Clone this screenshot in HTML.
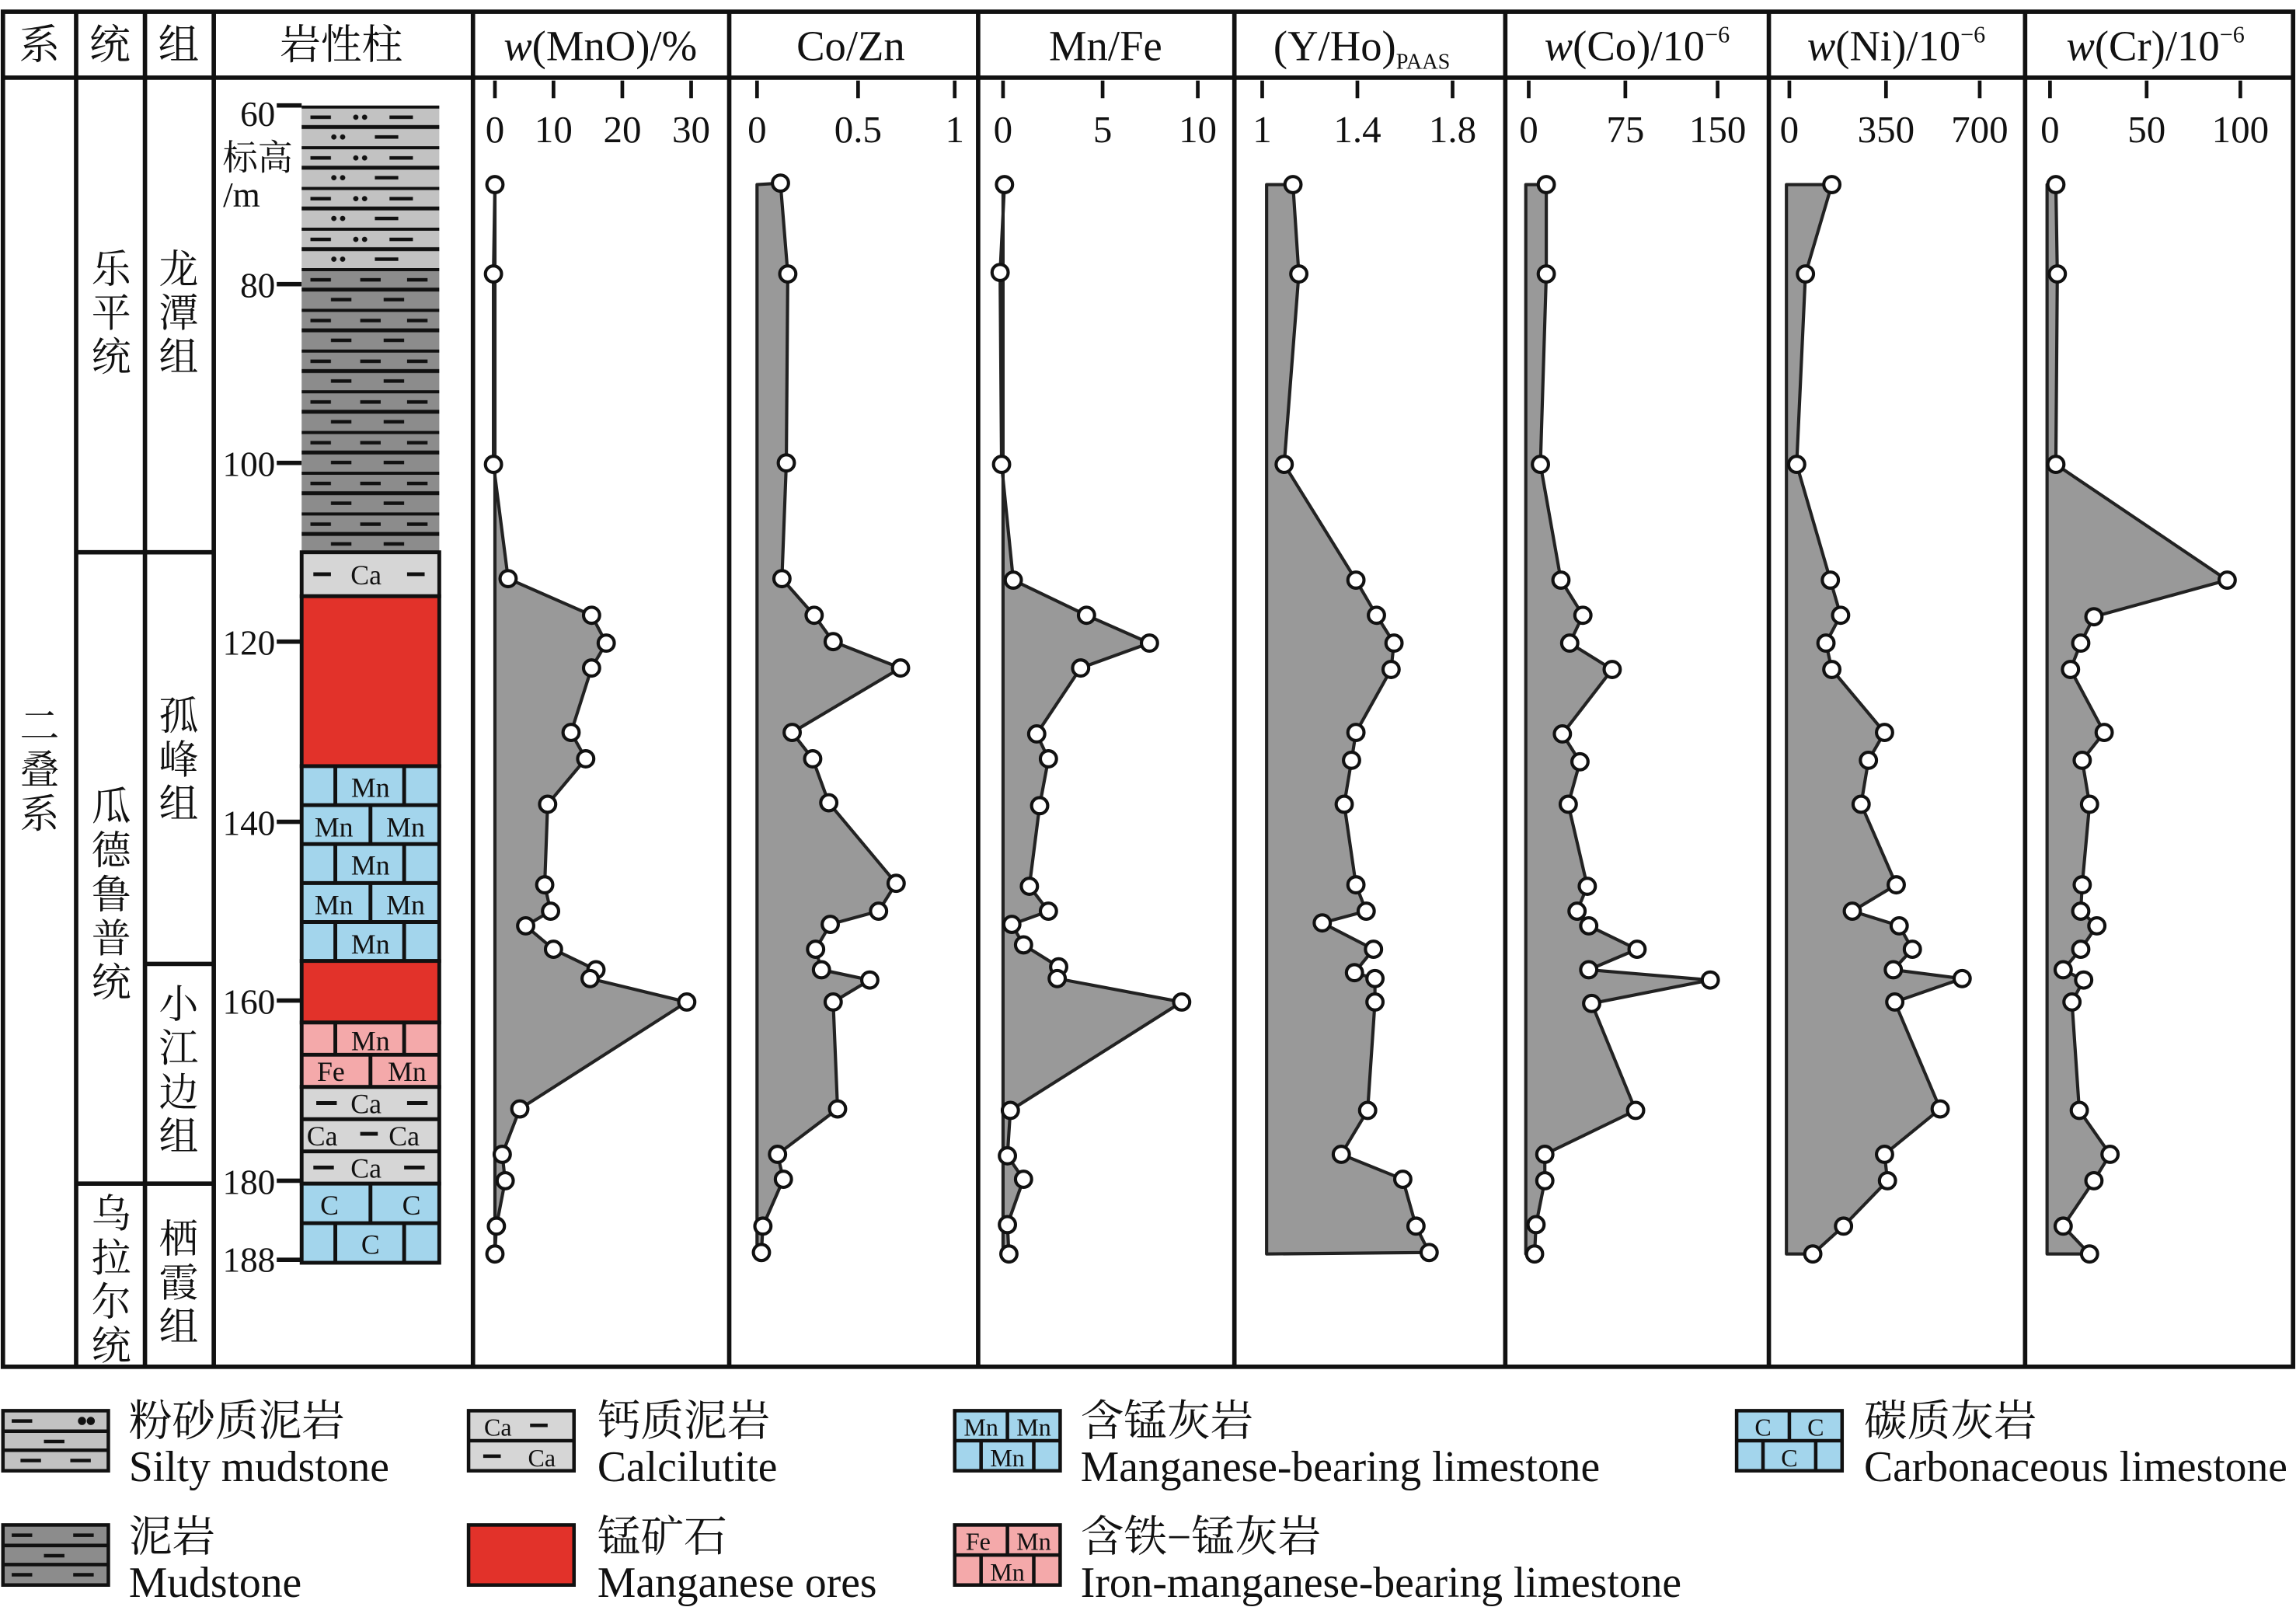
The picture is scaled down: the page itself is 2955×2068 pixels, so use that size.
<!DOCTYPE html>
<html><head><meta charset="utf-8"><style>
html,body{margin:0;padding:0;background:#fff}
svg{display:block}
text{font-family:"Liberation Serif","Noto Serif CJK SC","Noto Sans CJK SC",serif;fill:#111}
</style></head><body>
<svg width="2955" height="2068" viewBox="0 0 1568 1097" preserveAspectRatio="none" xmlns="http://www.w3.org/2000/svg">
<defs>
<pattern id="silty" x="206" y="72" width="94" height="27.8" patternUnits="userSpaceOnUse">
<rect width="94" height="27.8" fill="#c2c2c2"/>
<line x1="0" y1="0.8" x2="94" y2="0.8" stroke="#111" stroke-width="2.6"/>
<line x1="0" y1="14.7" x2="94" y2="14.7" stroke="#111" stroke-width="2.6"/>
<line x1="6" y1="8" x2="20" y2="8" stroke="#111" stroke-width="2.4"/>
<line x1="60" y1="8" x2="76" y2="8" stroke="#111" stroke-width="2.4"/>
<circle cx="37" cy="8" r="1.8" fill="#111"/><circle cx="43" cy="8" r="1.8" fill="#111"/>
<circle cx="22" cy="21.5" r="1.8" fill="#111"/><circle cx="28" cy="21.5" r="1.8" fill="#111"/>
<line x1="50" y1="21.5" x2="66" y2="21.5" stroke="#111" stroke-width="2.4"/>
</pattern>
<pattern id="mud" x="206" y="183" width="94" height="27.8" patternUnits="userSpaceOnUse">
<rect width="94" height="27.8" fill="#8c8c8c"/>
<line x1="0" y1="0.8" x2="94" y2="0.8" stroke="#111" stroke-width="2.6"/>
<line x1="0" y1="14.7" x2="94" y2="14.7" stroke="#111" stroke-width="2.6"/>
<line x1="6" y1="8" x2="20" y2="8" stroke="#111" stroke-width="2.4"/>
<line x1="40" y1="8" x2="54" y2="8" stroke="#111" stroke-width="2.4"/>
<line x1="72" y1="8" x2="86" y2="8" stroke="#111" stroke-width="2.4"/>
<line x1="20" y1="21.5" x2="34" y2="21.5" stroke="#111" stroke-width="2.4"/>
<line x1="56" y1="21.5" x2="70" y2="21.5" stroke="#111" stroke-width="2.4"/>
</pattern>
</defs>

<g stroke="#111" stroke-width="3" fill="none">
<rect x="2" y="8" width="1564" height="925"/>
<line x1="2" y1="53" x2="1566" y2="53"/>
<line x1="52" y1="8" x2="52" y2="933"/>
<line x1="99" y1="8" x2="99" y2="933"/>
<line x1="146" y1="8" x2="146" y2="933"/>
<line x1="323" y1="8" x2="323" y2="933"/>
<line x1="498" y1="8" x2="498" y2="933"/>
<line x1="668" y1="8" x2="668" y2="933"/>
<line x1="843" y1="8" x2="843" y2="933"/>
<line x1="1028" y1="8" x2="1028" y2="933"/>
<line x1="1208" y1="8" x2="1208" y2="933"/>
<line x1="1383" y1="8" x2="1383" y2="933"/>
<line x1="52" y1="377" x2="146" y2="377"/>
<line x1="99" y1="658" x2="146" y2="658"/>
<line x1="52" y1="808" x2="146" y2="808"/>
</g>

<g font-size="28" text-anchor="middle">
<text x="27" y="40">系</text>
<text x="75" y="40">统</text>
<text x="122" y="40">组</text>
<text x="233" y="40">岩性柱</text>
<text x="410" y="41" font-size="29"><tspan font-style="italic">w</tspan>(MnO)/%</text>
<text x="581" y="41" font-size="29">Co/Zn</text>
<text x="755" y="41" font-size="29">Mn/Fe</text>
<text x="930" y="41" font-size="29">(Y/Ho)<tspan font-size="15" dy="6">PAAS</tspan></text>
<text x="1118" y="41" font-size="29"><tspan font-style="italic">w</tspan>(Co)/10<tspan font-size="16" dy="-12">−6</tspan></text>
<text x="1295" y="41" font-size="29"><tspan font-style="italic">w</tspan>(Ni)/10<tspan font-size="16" dy="-12">−6</tspan></text>
<text x="1472" y="41" font-size="29"><tspan font-style="italic">w</tspan>(Cr)/10<tspan font-size="16" dy="-12">−6</tspan></text>
</g>

<g font-size="27" text-anchor="middle">
<text x="27" y="505">二</text><text x="27" y="535">叠</text><text x="27" y="565">系</text>
<text x="76" y="193">乐</text><text x="76" y="223">平</text><text x="76" y="253">统</text>
<text x="76" y="560">瓜</text><text x="76" y="590">德</text><text x="76" y="620">鲁</text><text x="76" y="650">普</text><text x="76" y="680">统</text>
<text x="76" y="838">乌</text><text x="76" y="868">拉</text><text x="76" y="898">尔</text><text x="76" y="928">统</text>
<text x="122" y="193">龙</text><text x="122" y="223">潭</text><text x="122" y="253">组</text>
<text x="122" y="498">孤</text><text x="122" y="528">峰</text><text x="122" y="558">组</text>
<text x="122" y="695">小</text><text x="122" y="725">江</text><text x="122" y="755">边</text><text x="122" y="785">组</text>
<text x="122" y="855">栖</text><text x="122" y="885">霞</text><text x="122" y="915">组</text>
</g>

<g stroke="#111" stroke-width="3">
<line x1="189" y1="72" x2="206" y2="72"/>
<line x1="189" y1="194" x2="206" y2="194"/>
<line x1="189" y1="316" x2="206" y2="316"/>
<line x1="189" y1="438" x2="206" y2="438"/>
<line x1="189" y1="561" x2="206" y2="561"/>
<line x1="189" y1="683" x2="206" y2="683"/>
<line x1="189" y1="806" x2="206" y2="806"/>
<line x1="189" y1="860" x2="206" y2="860"/>
</g>
<g font-size="24" text-anchor="end">
<text x="188" y="86">60</text>
<text x="188" y="203">80</text>
<text x="188" y="325">100</text>
<text x="188" y="447">120</text>
<text x="188" y="570">140</text>
<text x="188" y="692">160</text>
<text x="188" y="815">180</text>
<text x="188" y="868">188</text>
</g>
<text x="176" y="116" font-size="24" text-anchor="middle">标高</text>
<text x="165" y="141" font-size="24" text-anchor="middle">/m</text>

<rect x="206" y="72" width="94" height="111" fill="url(#silty)"/>
<rect x="206" y="183" width="94" height="194" fill="url(#mud)"/>
<g stroke="#111" stroke-width="2.6">
<rect x="206" y="377" width="94" height="30" fill="#d6d6d6"/>
<rect x="206" y="407" width="94" height="116" fill="#e2322a"/>
<rect x="206" y="523" width="94" height="133" fill="#a3d5ec"/>
<rect x="206" y="656" width="94" height="42" fill="#e2322a"/>
<rect x="206" y="698" width="94" height="44" fill="#f4a9aa"/>
<rect x="206" y="742" width="94" height="66" fill="#d6d6d6"/>
<rect x="206" y="808" width="94" height="54" fill="#a3d5ec"/>
<line x1="206" y1="549.6" x2="300" y2="549.6"/>
<line x1="206" y1="576.2" x2="300" y2="576.2"/>
<line x1="206" y1="602.8" x2="300" y2="602.8"/>
<line x1="206" y1="629.4" x2="300" y2="629.4"/>
<line x1="229" y1="523" x2="229" y2="549.6"/><line x1="276" y1="523" x2="276" y2="549.6"/>
<line x1="253" y1="549.6" x2="253" y2="576.2"/>
<line x1="229" y1="576.2" x2="229" y2="602.8"/><line x1="276" y1="576.2" x2="276" y2="602.8"/>
<line x1="253" y1="602.8" x2="253" y2="629.4"/>
<line x1="229" y1="629.4" x2="229" y2="656"/><line x1="276" y1="629.4" x2="276" y2="656"/>
<line x1="206" y1="720" x2="300" y2="720"/>
<line x1="229" y1="698" x2="229" y2="720"/><line x1="276" y1="698" x2="276" y2="720"/>
<line x1="253" y1="720" x2="253" y2="742"/>
<line x1="206" y1="764" x2="300" y2="764"/>
<line x1="206" y1="786" x2="300" y2="786"/>
<line x1="206" y1="835" x2="300" y2="835"/>
<line x1="253" y1="808" x2="253" y2="835"/>
<line x1="229" y1="835" x2="229" y2="862"/><line x1="276" y1="835" x2="276" y2="862"/>
<line x1="214" y1="392" x2="226" y2="392"/><line x1="278" y1="392" x2="290" y2="392"/>
<line x1="216" y1="753" x2="230" y2="753"/><line x1="278" y1="753" x2="292" y2="753"/>
<line x1="246" y1="774" x2="258" y2="774"/>
<line x1="214" y1="797" x2="228" y2="797"/><line x1="276" y1="797" x2="290" y2="797"/>
</g>
<g font-size="19" text-anchor="middle">
<text x="250" y="399">Ca</text>
<text x="253" y="544">Mn</text>
<text x="228" y="571">Mn</text><text x="277" y="571">Mn</text>
<text x="253" y="597">Mn</text>
<text x="228" y="624">Mn</text><text x="277" y="624">Mn</text>
<text x="253" y="651">Mn</text>
<text x="253" y="717">Mn</text>
<text x="226" y="738">Fe</text><text x="278" y="738">Mn</text>
<text x="250" y="760">Ca</text>
<text x="220" y="782">Ca</text><text x="276" y="782">Ca</text>
<text x="250" y="804">Ca</text>
<text x="225" y="829">C</text><text x="281" y="829">C</text>
<text x="253" y="856">C</text>
</g>

<g stroke="#111" stroke-width="2.5">
<line x1="338" y1="55" x2="338" y2="67"/><line x1="378" y1="55" x2="378" y2="67"/><line x1="425" y1="55" x2="425" y2="67"/><line x1="472" y1="55" x2="472" y2="67"/>
<line x1="517" y1="55" x2="517" y2="67"/><line x1="586" y1="55" x2="586" y2="67"/><line x1="652" y1="55" x2="652" y2="67"/>
<line x1="685" y1="55" x2="685" y2="67"/><line x1="753" y1="55" x2="753" y2="67"/><line x1="818" y1="55" x2="818" y2="67"/>
<line x1="862" y1="55" x2="862" y2="67"/><line x1="927" y1="55" x2="927" y2="67"/><line x1="992" y1="55" x2="992" y2="67"/>
<line x1="1044" y1="55" x2="1044" y2="67"/><line x1="1110" y1="55" x2="1110" y2="67"/><line x1="1173" y1="55" x2="1173" y2="67"/>
<line x1="1222" y1="55" x2="1222" y2="67"/><line x1="1288" y1="55" x2="1288" y2="67"/><line x1="1352" y1="55" x2="1352" y2="67"/>
<line x1="1400" y1="55" x2="1400" y2="67"/><line x1="1466" y1="55" x2="1466" y2="67"/><line x1="1530" y1="55" x2="1530" y2="67"/>
</g>
<g font-size="26" text-anchor="middle">
<text x="338" y="97">0</text><text x="378" y="97">10</text><text x="425" y="97">20</text><text x="472" y="97">30</text>
<text x="517" y="97">0</text><text x="586" y="97">0.5</text><text x="652" y="97">1</text>
<text x="685" y="97">0</text><text x="753" y="97">5</text><text x="818" y="97">10</text>
<text x="862" y="97">1</text><text x="927" y="97">1.4</text><text x="992" y="97">1.8</text>
<text x="1044" y="97">0</text><text x="1110" y="97">75</text><text x="1173" y="97">150</text>
<text x="1222" y="97">0</text><text x="1288" y="97">350</text><text x="1352" y="97">700</text>
<text x="1400" y="97">0</text><text x="1466" y="97">50</text><text x="1530" y="97">100</text>
</g>

<g fill="#999" stroke="#222" stroke-width="2.2" stroke-linejoin="round">
<polygon points="338,126 338,126 337,187 337,317 347,395 404,420 414,439 404,456 390,500 400,518 374,549 372,604 376,622 359,632 378,648 407,662 403,668 469,684 355,757 343,788 345,806 339,837 338,856 338,856"/>
<polygon points="517,126 533,125 538,187 537,316 534,395 556,420 569,438 615,456 541,500 555,518 566,548 612,603 600,622 567,631 557,648 561,662 594,669 569,684 572,757 531,788 535,805 521,837 520,855 517,856"/>
<polygon points="685,126 686,126 683,186 684,317 692,396 742,420 785,439 738,456 708,501 716,518 710,550 703,605 716,622 691,631 699,645 723,660 722,668 807,684 690,758 688,789 699,805 688,836 689,856 685,856"/>
<polygon points="865,126 883,126 887,187 877,317 926,396 940,420 952,439 950,457 926,500 923,519 918,549 926,604 933,622 903,630 938,648 925,664 939,668 939,684 934,758 916,788 958,805 967,837 976,855 865,856"/>
<polygon points="1042,126 1056,126 1056,187 1052,317 1066,396 1081,420 1072,439 1101,457 1067,501 1079,520 1071,549 1084,605 1077,622 1085,632 1118,648 1085,662 1168,669 1087,685 1117,758 1055,788 1055,806 1049,836 1048,856 1042,856"/>
<polygon points="1220,126 1251,126 1233,187 1227,317 1250,396 1257,420 1247,439 1251,457 1287,500 1276,519 1271,549 1295,604 1265,622 1297,632 1306,648 1293,662 1340,668 1294,684 1325,757 1287,788 1289,806 1259,837 1238,856 1220,856"/>
<polygon points="1398,126 1404,126 1405,187 1404,317 1521,396 1430,421 1421,439 1414,457 1437,500 1422,519 1427,549 1422,604 1421,622 1432,632 1421,648 1409,662 1423,669 1415,684 1420,758 1441,788 1430,806 1409,837 1427,856 1398,856"/>
</g>
<g fill="#fff" stroke="#111" stroke-width="2.2">
<circle cx="338" cy="126" r="5.5"/><circle cx="337" cy="187" r="5.5"/><circle cx="337" cy="317" r="5.5"/><circle cx="347" cy="395" r="5.5"/><circle cx="404" cy="420" r="5.5"/><circle cx="414" cy="439" r="5.5"/><circle cx="404" cy="456" r="5.5"/><circle cx="390" cy="500" r="5.5"/><circle cx="400" cy="518" r="5.5"/><circle cx="374" cy="549" r="5.5"/><circle cx="372" cy="604" r="5.5"/><circle cx="376" cy="622" r="5.5"/><circle cx="359" cy="632" r="5.5"/><circle cx="378" cy="648" r="5.5"/><circle cx="407" cy="662" r="5.5"/><circle cx="403" cy="668" r="5.5"/><circle cx="469" cy="684" r="5.5"/><circle cx="355" cy="757" r="5.5"/><circle cx="343" cy="788" r="5.5"/><circle cx="345" cy="806" r="5.5"/><circle cx="339" cy="837" r="5.5"/><circle cx="338" cy="856" r="5.5"/>
<circle cx="533" cy="125" r="5.5"/><circle cx="538" cy="187" r="5.5"/><circle cx="537" cy="316" r="5.5"/><circle cx="534" cy="395" r="5.5"/><circle cx="556" cy="420" r="5.5"/><circle cx="569" cy="438" r="5.5"/><circle cx="615" cy="456" r="5.5"/><circle cx="541" cy="500" r="5.5"/><circle cx="555" cy="518" r="5.5"/><circle cx="566" cy="548" r="5.5"/><circle cx="612" cy="603" r="5.5"/><circle cx="600" cy="622" r="5.5"/><circle cx="567" cy="631" r="5.5"/><circle cx="557" cy="648" r="5.5"/><circle cx="561" cy="662" r="5.5"/><circle cx="594" cy="669" r="5.5"/><circle cx="569" cy="684" r="5.5"/><circle cx="572" cy="757" r="5.5"/><circle cx="531" cy="788" r="5.5"/><circle cx="535" cy="805" r="5.5"/><circle cx="521" cy="837" r="5.5"/><circle cx="520" cy="855" r="5.5"/>
<circle cx="686" cy="126" r="5.5"/><circle cx="683" cy="186" r="5.5"/><circle cx="684" cy="317" r="5.5"/><circle cx="692" cy="396" r="5.5"/><circle cx="742" cy="420" r="5.5"/><circle cx="785" cy="439" r="5.5"/><circle cx="738" cy="456" r="5.5"/><circle cx="708" cy="501" r="5.5"/><circle cx="716" cy="518" r="5.5"/><circle cx="710" cy="550" r="5.5"/><circle cx="703" cy="605" r="5.5"/><circle cx="716" cy="622" r="5.5"/><circle cx="691" cy="631" r="5.5"/><circle cx="699" cy="645" r="5.5"/><circle cx="723" cy="660" r="5.5"/><circle cx="722" cy="668" r="5.5"/><circle cx="807" cy="684" r="5.5"/><circle cx="690" cy="758" r="5.5"/><circle cx="688" cy="789" r="5.5"/><circle cx="699" cy="805" r="5.5"/><circle cx="688" cy="836" r="5.5"/><circle cx="689" cy="856" r="5.5"/>
<circle cx="883" cy="126" r="5.5"/><circle cx="887" cy="187" r="5.5"/><circle cx="877" cy="317" r="5.5"/><circle cx="926" cy="396" r="5.5"/><circle cx="940" cy="420" r="5.5"/><circle cx="952" cy="439" r="5.5"/><circle cx="950" cy="457" r="5.5"/><circle cx="926" cy="500" r="5.5"/><circle cx="923" cy="519" r="5.5"/><circle cx="918" cy="549" r="5.5"/><circle cx="926" cy="604" r="5.5"/><circle cx="933" cy="622" r="5.5"/><circle cx="903" cy="630" r="5.5"/><circle cx="938" cy="648" r="5.5"/><circle cx="925" cy="664" r="5.5"/><circle cx="939" cy="668" r="5.5"/><circle cx="939" cy="684" r="5.5"/><circle cx="934" cy="758" r="5.5"/><circle cx="916" cy="788" r="5.5"/><circle cx="958" cy="805" r="5.5"/><circle cx="967" cy="837" r="5.5"/><circle cx="976" cy="855" r="5.5"/>
<circle cx="1056" cy="126" r="5.5"/><circle cx="1056" cy="187" r="5.5"/><circle cx="1052" cy="317" r="5.5"/><circle cx="1066" cy="396" r="5.5"/><circle cx="1081" cy="420" r="5.5"/><circle cx="1072" cy="439" r="5.5"/><circle cx="1101" cy="457" r="5.5"/><circle cx="1067" cy="501" r="5.5"/><circle cx="1079" cy="520" r="5.5"/><circle cx="1071" cy="549" r="5.5"/><circle cx="1084" cy="605" r="5.5"/><circle cx="1077" cy="622" r="5.5"/><circle cx="1085" cy="632" r="5.5"/><circle cx="1118" cy="648" r="5.5"/><circle cx="1085" cy="662" r="5.5"/><circle cx="1168" cy="669" r="5.5"/><circle cx="1087" cy="685" r="5.5"/><circle cx="1117" cy="758" r="5.5"/><circle cx="1055" cy="788" r="5.5"/><circle cx="1055" cy="806" r="5.5"/><circle cx="1049" cy="836" r="5.5"/><circle cx="1048" cy="856" r="5.5"/>
<circle cx="1251" cy="126" r="5.5"/><circle cx="1233" cy="187" r="5.5"/><circle cx="1227" cy="317" r="5.5"/><circle cx="1250" cy="396" r="5.5"/><circle cx="1257" cy="420" r="5.5"/><circle cx="1247" cy="439" r="5.5"/><circle cx="1251" cy="457" r="5.5"/><circle cx="1287" cy="500" r="5.5"/><circle cx="1276" cy="519" r="5.5"/><circle cx="1271" cy="549" r="5.5"/><circle cx="1295" cy="604" r="5.5"/><circle cx="1265" cy="622" r="5.5"/><circle cx="1297" cy="632" r="5.5"/><circle cx="1306" cy="648" r="5.5"/><circle cx="1293" cy="662" r="5.5"/><circle cx="1340" cy="668" r="5.5"/><circle cx="1294" cy="684" r="5.5"/><circle cx="1325" cy="757" r="5.5"/><circle cx="1287" cy="788" r="5.5"/><circle cx="1289" cy="806" r="5.5"/><circle cx="1259" cy="837" r="5.5"/><circle cx="1238" cy="856" r="5.5"/>
<circle cx="1404" cy="126" r="5.5"/><circle cx="1405" cy="187" r="5.5"/><circle cx="1404" cy="317" r="5.5"/><circle cx="1521" cy="396" r="5.5"/><circle cx="1430" cy="421" r="5.5"/><circle cx="1421" cy="439" r="5.5"/><circle cx="1414" cy="457" r="5.5"/><circle cx="1437" cy="500" r="5.5"/><circle cx="1422" cy="519" r="5.5"/><circle cx="1427" cy="549" r="5.5"/><circle cx="1422" cy="604" r="5.5"/><circle cx="1421" cy="622" r="5.5"/><circle cx="1432" cy="632" r="5.5"/><circle cx="1421" cy="648" r="5.5"/><circle cx="1409" cy="662" r="5.5"/><circle cx="1423" cy="669" r="5.5"/><circle cx="1415" cy="684" r="5.5"/><circle cx="1420" cy="758" r="5.5"/><circle cx="1441" cy="788" r="5.5"/><circle cx="1430" cy="806" r="5.5"/><circle cx="1409" cy="837" r="5.5"/><circle cx="1427" cy="856" r="5.5"/>
</g>

<g stroke="#111" stroke-width="2.4">
<rect x="2" y="963" width="72" height="41" fill="#c2c2c2"/>
<line x1="2" y1="977" x2="74" y2="977"/><line x1="2" y1="990" x2="74" y2="990"/>
<line x1="8" y1="970" x2="22" y2="970"/><line x1="14" y1="997" x2="28" y2="997"/><line x1="48" y1="997" x2="62" y2="997"/><line x1="30" y1="984" x2="44" y2="984"/>
<rect x="2" y="1041" width="72" height="41" fill="#8c8c8c"/>
<line x1="2" y1="1055" x2="74" y2="1055"/><line x1="2" y1="1068" x2="74" y2="1068"/>
<line x1="8" y1="1048" x2="22" y2="1048"/><line x1="50" y1="1048" x2="64" y2="1048"/><line x1="30" y1="1062" x2="44" y2="1062"/><line x1="8" y1="1075" x2="22" y2="1075"/><line x1="50" y1="1075" x2="64" y2="1075"/>
<rect x="320" y="963" width="72" height="41" fill="#d6d6d6"/>
<line x1="320" y1="983.5" x2="392" y2="983.5"/>
<line x1="362" y1="973" x2="374" y2="973"/><line x1="330" y1="994" x2="342" y2="994"/>
<rect x="320" y="1041" width="72" height="41" fill="#e2322a"/>
<rect x="652" y="963" width="72" height="41" fill="#a3d5ec"/>
<line x1="652" y1="983.5" x2="724" y2="983.5"/><line x1="688" y1="963" x2="688" y2="983.5"/><line x1="670" y1="983.5" x2="670" y2="1004"/><line x1="706" y1="983.5" x2="706" y2="1004"/>
<rect x="652" y="1041" width="72" height="41" fill="#f4a9aa"/>
<line x1="652" y1="1061.5" x2="724" y2="1061.5"/><line x1="688" y1="1041" x2="688" y2="1061.5"/><line x1="670" y1="1061.5" x2="670" y2="1082"/><line x1="706" y1="1061.5" x2="706" y2="1082"/>
<rect x="1186" y="963" width="72" height="41" fill="#a3d5ec"/>
<line x1="1186" y1="983.5" x2="1258" y2="983.5"/><line x1="1222" y1="963" x2="1222" y2="983.5"/><line x1="1204" y1="983.5" x2="1204" y2="1004"/><line x1="1240" y1="983.5" x2="1240" y2="1004"/>
<circle cx="56" cy="970" r="1.6" fill="#111"/><circle cx="62" cy="970" r="1.6" fill="#111"/>
</g>
<g font-size="17" text-anchor="middle">
<text x="340" y="980">Ca</text><text x="370" y="1001">Ca</text>
<text x="670" y="980">Mn</text><text x="706" y="980">Mn</text><text x="688" y="1001">Mn</text>
<text x="668" y="1058">Fe</text><text x="706" y="1058">Mn</text><text x="688" y="1079">Mn</text>
<text x="1204" y="980">C</text><text x="1240" y="980">C</text><text x="1222" y="1001">C</text>
</g>
<g font-size="29.5">
<text x="88" y="980">粉砂质泥岩</text><text x="88" y="1011">Silty mudstone</text>
<text x="88" y="1059">泥岩</text><text x="88" y="1090">Mudstone</text>
<text x="408" y="980">钙质泥岩</text><text x="408" y="1011">Calcilutite</text>
<text x="408" y="1059">锰矿石</text><text x="408" y="1090">Manganese ores</text>
<text x="738" y="980">含锰灰岩</text><text x="738" y="1011">Manganese-bearing limestone</text>
<text x="738" y="1059">含铁−锰灰岩</text><text x="738" y="1090">Iron-manganese-bearing limestone</text>
<text x="1273" y="980">碳质灰岩</text><text x="1273" y="1011">Carbonaceous limestone</text>
</g>
</svg>
</body></html>
